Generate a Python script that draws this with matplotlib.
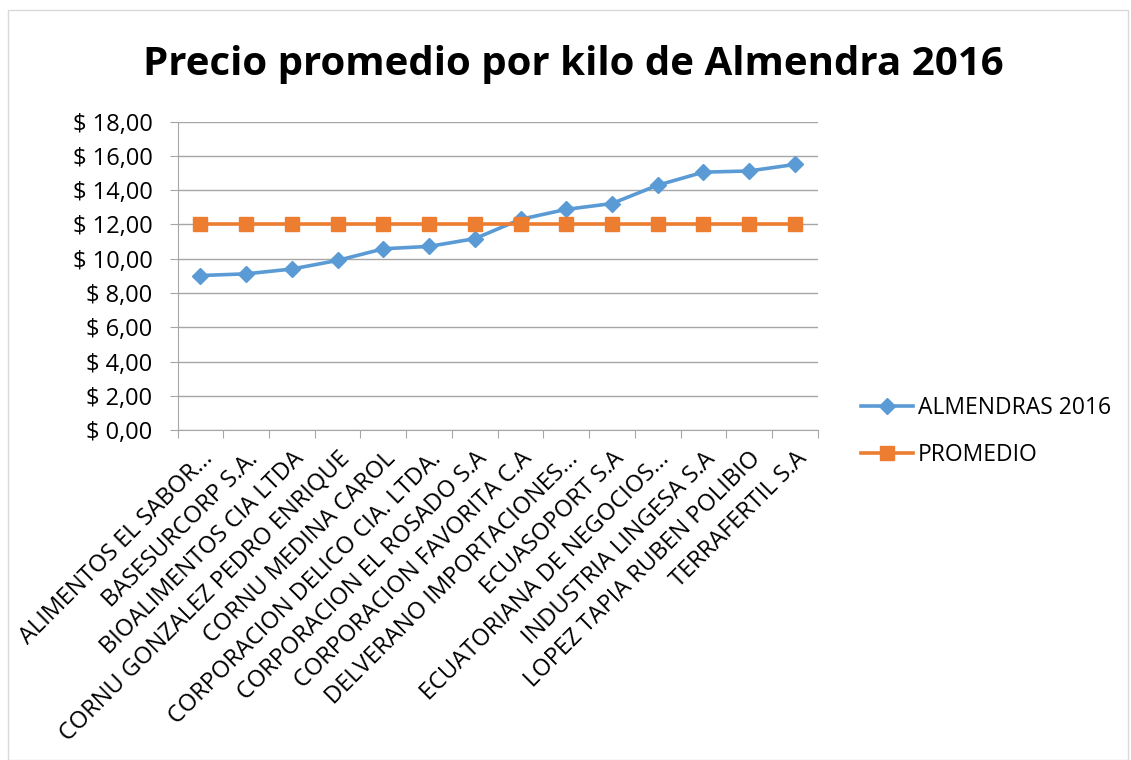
import matplotlib.pyplot as plt
from matplotlib.patches import Rectangle
from matplotlib.ticker import FuncFormatter, FixedLocator

plt.rcParams['font.family'] = ['Open Sans', 'DejaVu Sans']

# datos
empresas = ['ALIMENTOS EL SABOR...', 'BASESURCORP S.A.', 'BIOALIMENTOS CIA LTDA',
            'CORNU GONZALEZ PEDRO ENRIQUE', 'CORNU MEDINA CAROL',
            'CORPORACION DELICO CIA. LTDA.', 'CORPORACION EL ROSADO S.A',
            'CORPORACION FAVORITA C.A', 'DELVERANO IMPORTACIONES...',
            'ECUASOPORT S.A', 'ECUATORIANA DE NEGOCIOS...', 'INDUSTRIA LINGESA S.A',
            'LOPEZ TAPIA RUBEN POLIBIO', 'TERRAFERTIL S.A']
almendras_2016 = [9.02, 9.12, 9.40, 9.90, 10.58, 10.72, 11.17,
                  12.30, 12.88, 13.22, 14.29, 15.05, 15.12, 15.50]
promedio = [12.02] * len(empresas)
y_ticks = [0, 2, 4, 6, 8, 10, 12, 14, 16, 18]

azul = '#5B9BD5'
naranja = '#ED7D31'
gris = '#A6A6A6'

fig = plt.figure(figsize=(11.31, 7.6), dpi=100)
ax = fig.add_axes([0.157, 0.434, 0.566, 0.406])

x = list(range(len(empresas)))
ax.plot(x, almendras_2016, color=azul, lw=2.6, marker='D', ms=8,
        label='ALMENDRAS 2016', zorder=3)
ax.plot(x, promedio, color=naranja, lw=2.6, marker='s', ms=9.5,
        label='PROMEDIO', zorder=4)

ax.set_xlim(-0.5, len(empresas) - 0.5)
ax.set_ylim(0, 18)
ax.set_yticks(y_ticks)
ax.yaxis.set_major_formatter(FuncFormatter(lambda v, p: '$ %d,00' % v))
ax.grid(axis='y', color=gris, lw=1)
ax.set_axisbelow(True)

# marcas entre categorias, estilo Excel
ax.xaxis.set_major_locator(FixedLocator([i - 0.5 for i in range(len(empresas) + 1)]))
ax.xaxis.set_minor_locator(FixedLocator(x))
ax.xaxis.set_major_formatter(FuncFormatter(lambda v, p: ''))
ax.set_xticklabels(empresas, minor=True, rotation=45, ha='right',
                   rotation_mode='anchor', fontsize=17)
ax.tick_params(axis='x', which='major', length=6, color=gris, direction='out')
ax.tick_params(axis='x', which='minor', length=0, pad=12)
ax.tick_params(axis='y', length=6, color=gris, labelsize=17, pad=12)

for s in ['top', 'right']:
    ax.spines[s].set_visible(False)
ax.spines['left'].set_color(gris)
ax.spines['bottom'].set_color(gris)

fig.text(0.507, 0.915, 'Precio promedio por kilo de Almendra 2016', ha='center',
         va='center', fontsize=29, fontweight='bold')

ax.legend(loc='center left', bbox_to_anchor=(1.035, -0.005), frameon=False,
          fontsize=16.5, handlelength=2.3, labelspacing=1.0, handletextpad=0.2)

fig.patches.append(Rectangle((0.007, 0.0), 0.99, 0.987, transform=fig.transFigure,
                             fill=False, edgecolor='#D9D9D9', lw=1))

fig.savefig('out.png', dpi=100)
